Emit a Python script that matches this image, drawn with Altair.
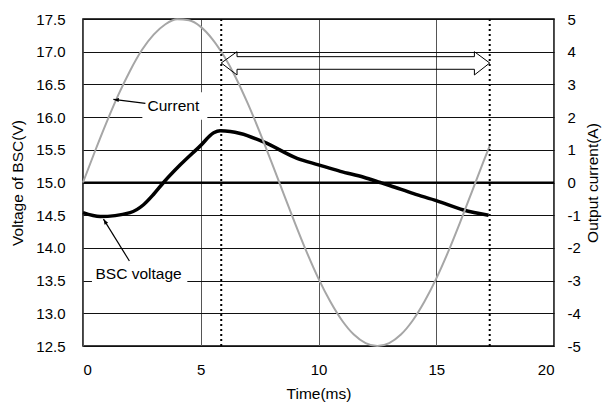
import altair as alt
import pandas as pd

FONT = "Liberation Sans"

# Output current (A), right axis
cur_t = [0, 0.5, 1, 1.5, 2, 2.5, 3, 3.5, 4, 4.5, 5, 5.5, 6, 6.5, 7, 7.5, 8, 8.5,
         9, 9.5, 10, 10.5, 11, 11.5, 12, 12.5, 13, 13.5, 14, 14.5, 15, 15.5, 16,
         16.5, 17, 17.27]
cur_a = [0, 0.94, 1.84, 2.68, 3.42, 4.05, 4.52, 4.84, 4.99, 4.96, 4.76, 4.38,
         3.85, 3.19, 2.41, 1.55, 0.63, -0.31, -1.24, -2.13, -2.94, -3.64, -4.22,
         -4.65, -4.91, -5.0, -4.91, -4.65, -4.22, -3.64, -2.94, -2.13, -1.24,
         -0.31, 0.63, 1.12]

# BSC voltage (V), left axis
bsc_t = [0, 0.73, 2.0, 2.57, 3.0, 3.42, 4.13, 4.98, 5.55, 5.83, 6.25, 6.68, 7.67,
         9.09, 10.0, 10.93, 11.92, 12.62, 13.05, 14.04, 15.03, 16.16, 17.22]
bsc_v = [14.54, 14.48, 14.54, 14.66, 14.82, 15.0, 15.27, 15.56, 15.76, 15.79,
         15.78, 15.75, 15.62, 15.37, 15.27, 15.17, 15.08, 15.0, 14.95, 14.83,
         14.72, 14.58, 14.50]

y_ticks = [12.5, 13.0, 13.5, 14.0, 14.5, 15.0, 15.5, 16.0, 16.5, 17.0, 17.5]
y2_ticks = [-5, -4, -3, -2, -1, 0, 1, 2, 3, 4, 5]
x_ticks = [0, 5, 10, 15, 20]

dotted_x = [5.87, 17.27]

# hollow double arrow outline (data units)
arrow_x = [5.87, 6.54, 6.54, 16.62, 16.62, 17.27, 16.62, 16.62, 6.54, 6.54, 5.87]
arrow_y = [16.827, 17.0, 16.924, 16.924, 17.0, 16.827, 16.644, 16.731, 16.731,
           16.644, 16.827]

# annotations
label_text = ["Current", "BSC voltage"]
label_x = [2.74, 0.53]
label_y = [16.17, 13.60]
box_x1 = [2.52, 0.38]
box_x2 = [5.28, 4.43]
box_y1 = [15.96, 13.43]
box_y2 = [16.38, 13.77]
ptr_x1 = [2.65, 1.97]
ptr_y1 = [16.21, 13.80]
ptr_x2 = [1.29, 0.87]
ptr_y2 = [16.27, 14.44]
ptr_angle = [6.6, 58.5]

cur_df = pd.DataFrame({"t": cur_t, "a": cur_a})
bsc_df = pd.DataFrame({"t": bsc_t, "v": bsc_v})
dot_df = pd.DataFrame({"x": dotted_x})
arr_df = pd.DataFrame({"x": arrow_x, "y": arrow_y, "o": list(range(len(arrow_x)))})
lab_df = pd.DataFrame({"text": label_text, "x": label_x, "y": label_y,
                       "bx1": box_x1, "bx2": box_x2, "by1": box_y1, "by2": box_y2,
                       "px1": ptr_x1, "py1": ptr_y1, "px2": ptr_x2, "py2": ptr_y2,
                       "ang": ptr_angle})
zero_df = pd.DataFrame({"y": [15.0]})

xs = alt.Scale(domain=[0, 20], nice=False, zero=False)
ys = alt.Scale(domain=[12.5, 17.5], nice=False, zero=False)

x_axis = alt.Axis(values=x_ticks, grid=True, gridColor="#555555", gridWidth=1,
                  ticks=False, domain=False, labelPadding=16, title="Time(ms)",
                  titlePadding=9)
y_axis = alt.Axis(values=y_ticks, format=".1f", grid=True, gridColor="#111111",
                  gridWidth=1, ticks=False, domain=False, labelPadding=18,
                  title="Voltage of BSC(V)", titlePadding=10)


def X(field):
    return alt.X(field, scale=xs, axis=x_axis)


def YL(field):
    return alt.Y(field, scale=ys, axis=y_axis)


def YO(field):
    return alt.Y(field, scale=ys, axis=None)


# left-axis layers (share the voltage scale and axis)
boxes = alt.Chart(lab_df).mark_rect(color="white").encode(
    x=X("bx1:Q"), x2="bx2:Q", y=YL("by1:Q"), y2="by2:Q",
)

zero = alt.Chart(zero_df).mark_rule(color="black", strokeWidth=2).encode(
    y=YL("y:Q")
)

bsc = alt.Chart(bsc_df).mark_line(color="black", strokeWidth=3.5,
                                  interpolate="monotone").encode(
    x=X("t:Q"), y=YL("v:Q"),
)

# right-axis layer
current = alt.Chart(cur_df).mark_line(color="#a6a6a6", strokeWidth=2,
                                      interpolate="monotone").encode(
    x=X("t:Q"),
    y=alt.Y("a:Q", scale=alt.Scale(domain=[-5, 5], nice=False, zero=False),
            axis=alt.Axis(orient="right", values=y2_ticks, grid=False,
                          labelExpr="toString(datum.value)",
                          ticks=False, domain=False, labelPadding=13,
                          title="Output current(A)", titleAngle=270,
                          titleBaseline="top", titlePadding=5)),
)

# overlay annotations (voltage units, no axis of their own)
dots = alt.Chart(dot_df).mark_rule(color="black", strokeWidth=2,
                                   strokeDash=[2, 3]).encode(
    x=X("x:Q")
)

arrow = alt.Chart(arr_df).mark_line(color="black", strokeWidth=1).encode(
    x=X("x:Q"), y=YO("y:Q"), order="o:Q"
)

ptr_lines = alt.Chart(lab_df).mark_rule(color="black", strokeWidth=1.2).encode(
    x=X("px1:Q"), y=YO("py1:Q"), x2="px2:Q", y2="py2:Q",
)

ptr_heads = alt.Chart(lab_df).mark_point(
    shape="M0,0L2,-0.75L2,0.75Z", filled=True, color="black", size=30, opacity=1
).encode(
    x=X("px2:Q"), y=YO("py2:Q"),
    angle=alt.Angle("ang:Q", scale=None),
)

labels = alt.Chart(lab_df).mark_text(align="left", baseline="middle",
                                     fontSize=15.5, font=FONT, color="black").encode(
    x=X("x:Q"), y=YO("y:Q"), text="text:N"
)

left = alt.layer(boxes, zero, bsc)
overlay = alt.layer(arrow, ptr_lines, ptr_heads, labels)

chart = alt.layer(left, current, dots, overlay).resolve_scale(
    y="independent"
).properties(
    width=471, height=327,
    autosize=alt.AutoSizeParams(type="none"),
    padding={"left": 83, "top": 19, "right": 51, "bottom": 62},
).configure(font=FONT).configure_view(
    stroke="black", strokeWidth=1.5
).configure_axis(
    labelFont=FONT, titleFont=FONT, labelFontSize=15, titleFontSize=15.5,
    titleFontWeight="normal", labelColor="black", titleColor="black",
)

chart.save("out.html", embed_options={"renderer": "svg", "actions": False})
